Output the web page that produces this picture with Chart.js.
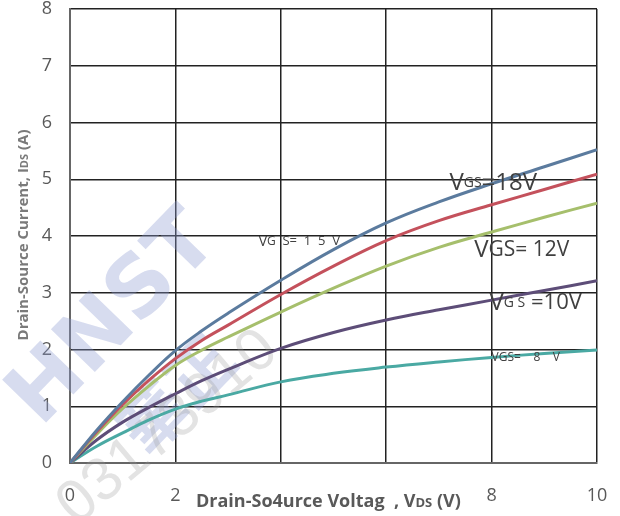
<!DOCTYPE html>
<html>
<head>
<meta charset="utf-8">
<script src="https://cdn.jsdelivr.net/npm/chart.js@4.4.0/dist/chart.umd.min.js"></script>
<style>
  html, body { margin: 0; padding: 0; background: #fff; }
  .chart-wrap { width: 620px; height: 516px; }
</style>
</head>
<body>
<div class="chart-wrap"><canvas class="js-ids"></canvas></div>
<script>
const vds = [0, 0.5, 1, 1.5, 2, 2.5, 3, 4, 5, 6, 7, 8, 9, 10];
const ids18 = [0, 0.57, 1.08, 1.55, 1.98, 2.33, 2.64, 3.22, 3.76, 4.23, 4.6, 4.92, 5.22, 5.52];
const ids15 = [0, 0.54, 1.03, 1.46, 1.84, 2.16, 2.43, 2.97, 3.47, 3.92, 4.27, 4.55, 4.82, 5.09];
const ids12 = [0, 0.5, 0.96, 1.36, 1.72, 1.99, 2.22, 2.66, 3.08, 3.47, 3.8, 4.07, 4.33, 4.58];
const ids10 = [0, 0.4, 0.72, 0.98, 1.22, 1.45, 1.65, 2.02, 2.3, 2.52, 2.7, 2.87, 3.04, 3.21];
const ids8 = [0, 0.29, 0.53, 0.76, 0.95, 1.09, 1.2, 1.43, 1.58, 1.69, 1.78, 1.86, 1.93, 1.99];

const seriesNames = ["VGS=18V", "VGS=15V", "VGS=12V", "VGS=10V", "VGS=8V"];
const seriesValues = [ids18, ids15, ids12, ids10, ids8];
const seriesColors = ["#5b7b9e", "#c4515c", "#a6bf6c", "#5d4d78", "#4aa9a3"];

const xTicks = [0, 2, 4, 6, 8, 10];
const xTickLabels = ["0", "2", "", "", "8", "10"];
const yTicks = [0, 1, 2, 3, 4, 5, 6, 7, 8];

// curve labels: pieces of [text, font size], anchored at data coords
const curveLabels = [
  { at: [7.2, 4.93], parts: [["V", 24], ["GS", 14], ["=18V", 24]] },
  { at: [3.58, 3.9], parts: [["V", 14], ["G", 12], ["  S=  1  5  V", 13]] },
  { at: [7.67, 3.75], parts: [["V", 24], ["GS= 12V", 21]] },
  { at: [7.96, 2.82], parts: [["V", 24], ["G S", 14], [" =10V", 22]] },
  { at: [8.0, 1.85], parts: [["VGS=    8    V", 12]] },
];

const drawParts = function (ctx, parts, x, y, weight) {
  let cx = x;
  parts.forEach(function (p) {
    ctx.font = (weight || "") + " " + p[1] + "px 'Open Sans', 'Liberation Sans', sans-serif";
    ctx.fillText(p[0], cx, y);
    cx += ctx.measureText(p[0]).width;
  });
  return cx - x;
};

const measureParts = function (ctx, parts, weight) {
  let w = 0;
  parts.forEach(function (p) {
    ctx.font = (weight || "") + " " + p[1] + "px 'Open Sans', 'Liberation Sans', sans-serif";
    w += ctx.measureText(p[0]).width;
  });
  return w;
};

const labelPlugin = {
  id: "curveLabels",
  beforeDatasetsDraw(chart) {
    const ctx = chart.ctx;
    ctx.save();
    // faint watermark
    ctx.globalAlpha = 0.35;
    ctx.fillStyle = "#8d9bd0";
    ctx.translate(115, 320);
    ctx.rotate(-0.8);
    ctx.font = "bold 84px 'DejaVu Sans', sans-serif";
    ctx.textAlign = "center";
    ctx.textBaseline = "middle";
    ctx.fillText("HNST", 0, 0);
    ctx.font = "bold 66px 'Noto Sans CJK SC', sans-serif";
    ctx.fillText("華正", -10, 95);
    ctx.restore();
    ctx.save();
    ctx.globalAlpha = 0.28;
    ctx.fillStyle = "#9a9a9a";
    ctx.translate(168, 428);
    ctx.rotate(-0.7);
    ctx.font = "60px 'Liberation Sans', sans-serif";
    ctx.textAlign = "center";
    ctx.textBaseline = "middle";
    ctx.fillText("03173910", 0, 0);
    ctx.restore();
  },
  afterDatasetsDraw(chart) {
    const ctx = chart.ctx;
    const xs = chart.scales.x;
    const ys = chart.scales.y;
    ctx.save();
    ctx.fillStyle = "#404040";
    ctx.textBaseline = "middle";
    curveLabels.forEach(function (l) {
      drawParts(ctx, l.parts, xs.getPixelForValue(l.at[0]), ys.getPixelForValue(l.at[1]));
    });

    // axis titles with subscripts
    ctx.fillStyle = "#595959";
    ctx.textBaseline = "alphabetic";
    drawParts(ctx, [["Drain-So4urce Voltag  , V", 18], ["DS", 13], [" (V)", 18]], 196, 507, "bold");

    const yTitle = [["Drain-Source Current, I", 15], ["DS", 11], [" (A)", 15]];
    const w = measureParts(ctx, yTitle, "bold");
    ctx.translate(28, 235);
    ctx.rotate(-Math.PI / 2);
    ctx.fillStyle = "#7a7a7a";
    drawParts(ctx, yTitle, -w / 2, 0, "bold");
    ctx.restore();
  },
};

const noPad = function (scale) {
  scale.paddingTop = 0;
  scale.paddingBottom = 0;
  scale.paddingLeft = 0;
  scale.paddingRight = 0;
};

const chartIds = function () {
  const canvas = document.querySelector(".js-ids");
  new Chart(canvas, {
    type: "scatter",
    data: {
      datasets: seriesNames.map(function (name, i) {
        return {
          label: name,
          data: vds.map(function (x, j) {
            return { x: x, y: seriesValues[i][j] };
          }),
          showLine: true,
          borderColor: seriesColors[i],
          borderWidth: 3,
          pointRadius: 0,
          tension: 0.4,
        };
      }),
    },
    options: {
      responsive: true,
      maintainAspectRatio: false,
      animation: false,
      layout: { padding: { top: 9, right: 23, left: 0, bottom: 0 } },
      plugins: {
        legend: { display: false },
        tooltip: { enabled: false },
      },
      scales: {
        x: {
          type: "linear",
          min: 0,
          max: 10,
          afterBuildTicks: function (scale) {
            scale.ticks = xTicks.map(function (v) { return { value: v }; });
          },
          afterFit: function (scale) {
            scale.height = 53;
            noPad(scale);
          },
          ticks: {
            padding: 22,
            color: "#595959",
            font: { size: 18, family: "'Open Sans', sans-serif" },
            callback: function (v) { return xTickLabels[xTicks.indexOf(v)]; },
          },
          grid: { color: "#222", lineWidth: 1.5, drawTicks: false },
          border: { color: "#666", width: 2 },
        },
        y: {
          min: 0,
          max: 8,
          afterBuildTicks: function (scale) {
            scale.ticks = yTicks.map(function (v) { return { value: v }; });
          },
          afterFit: function (scale) {
            scale.width = 70;
            noPad(scale);
          },
          ticks: {
            padding: 18,
            color: "#595959",
            font: { size: 18, family: "'Open Sans', sans-serif" },
          },
          grid: { color: "#222", lineWidth: 1.5, drawTicks: false },
          border: { color: "#666", width: 2 },
        },
      },
    },
    plugins: [labelPlugin],
  });
};

const init = function () {
  chartIds();
};

document.addEventListener("DOMContentLoaded", init);
</script>
</body>
</html>
